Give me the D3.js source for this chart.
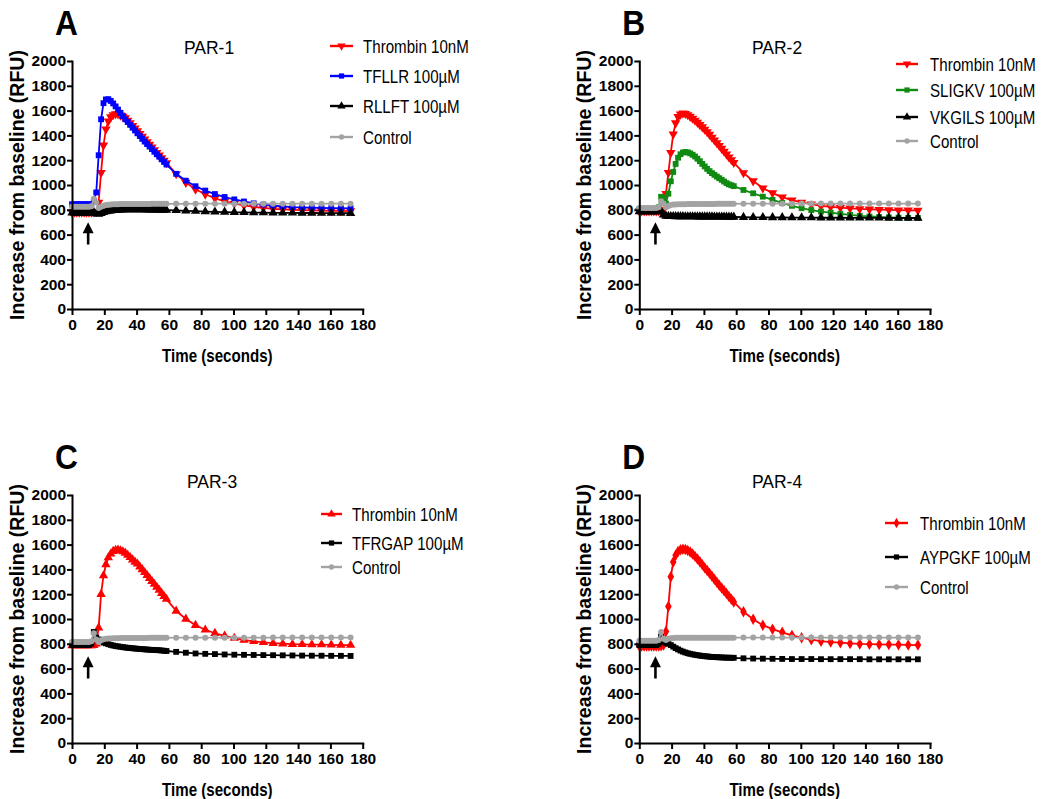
<!DOCTYPE html>
<html>
<head>
<meta charset="utf-8">
<script src="https://cdn.jsdelivr.net/npm/d3@7"></script>
<style>
  body { margin: 0; background: #fff; }
  svg { display: block; }
  .tick text { font-family: "Liberation Sans", Arial, sans-serif; font-weight: bold; font-size: 15.5px; fill: #000; }
</style>
</head>
<body>
<svg id="fig" width="1048" height="799"></svg>
<script>
// ---- Sampling times (s): dense reads for the first minute, then every 6 s ----
const TIME = [0,1.5,3,4.5,6,7.5,9,10.5,12,13.5,
  15,16.5,18,19.5,21,22.5,24,25.5,27,28.5,
  30,31.5,33,34.5,36,37.5,39,40.5,42,43.5,
  45,46.5,48,49.5,51,52.5,54,55.5,57,58.5,
  64.5,70.5,76.5,82.5,88.5,94.5,100.5,106.5,112.5,118.5,
  124.5,130.5,136.5,142.5,148.5,154.5,160.5,166.5,172.5];

const X_TICKS = [0,20,40,60,80,100,120,140,160,180];
const Y_TICKS = [0,200,400,600,800,1000,1200,1400,1600,1800,2000];
const ARROW_TIME = 10;          // agonist addition
const ARROW_RANGE = [520, 700]; // RFU span of the addition arrow

// ---- PAR-1 ----
const par1Thrombin = [780,780,780,780,780,780,780,780,780,782,
  785,860,1100,1320,1450,1515,1548,1565,1573,1572,
  1562,1552,1540,1520,1500,1479,1458,1436,1414,1392,
  1370,1348,1326,1305,1283,1261,1240,1219,1198,1178,
  1090,1020,965,925,893,868,850,835,823,815,
  808,803,800,797,795,793,792,791,790];
const par1TFLLR = [845,845,845,845,845,845,845,845,845,870,
  940,1240,1530,1660,1690,1692,1678,1658,1634,1608,
  1582,1556,1530,1508,1485,1462,1440,1417,1395,1372,
  1350,1330,1310,1290,1268,1248,1228,1207,1186,1165,
  1090,1035,990,955,927,903,884,867,852,842,
  833,827,822,819,817,815,814,813,812];
const par1RLLFT = [775,775,775,775,775,775,775,775,775,780,
  770,765,772,780,785,789,792,795,797,799,
  800,801,802,802,803,803,803,803,802,802,
  802,801,801,800,800,800,799,799,798,798,
  795,792,789,786,784,782,780,779,778,777,
  776,775,775,774,774,773,773,773,772];
const par1Control = [825,825,825,825,825,825,825,825,828,890,
  860,815,825,833,838,841,843,844,845,845,
  846,846,846,846,846,847,847,847,847,847,
  847,847,847,848,848,848,848,848,848,848,
  848,848,849,849,849,849,849,849,849,849,
  849,849,849,849,849,849,849,849,849];

// ---- PAR-2 ----
const par2Thrombin = [790,790,790,790,790,790,790,790,790,795,
  800,930,1100,1260,1410,1500,1550,1570,1578,1575,
  1565,1552,1537,1521,1504,1486,1468,1448,1428,1407,
  1384,1362,1340,1317,1294,1271,1248,1225,1202,1180,
  1098,1032,975,935,902,878,860,845,832,824,
  817,812,807,804,801,799,797,796,795];
const par2SLIGKV = [805,805,805,805,805,805,805,805,820,905,
  900,850,930,1030,1105,1170,1220,1248,1262,1266,
  1263,1255,1244,1230,1212,1192,1170,1150,1130,1112,
  1096,1082,1068,1055,1042,1028,1015,1005,998,991,
  960,933,906,880,855,832,813,798,786,777,
  767,759,751,746,742,739,737,735,734];
const par2VKGILS = [785,785,785,785,785,785,785,785,785,790,
  760,750,748,747,747,746,746,746,746,745,
  745,745,745,745,744,744,744,744,744,744,
  744,743,743,743,743,743,742,742,742,742,
  740,739,739,738,738,737,737,737,736,736,
  736,735,735,735,735,734,734,734,734];
const par2Control = [815,815,815,815,815,815,815,815,820,870,
  850,820,830,838,842,843,844,845,845,845,
  846,846,846,846,846,847,847,847,847,847,
  847,847,848,848,848,848,848,848,848,848,
  849,849,849,849,849,849,850,850,850,850,
  850,850,850,850,850,850,850,850,850];

// ---- PAR-3 ----
const par3Thrombin = [785,785,785,785,785,785,785,785,785,787,
  800,930,1200,1350,1440,1495,1525,1547,1556,1557,
  1552,1543,1532,1515,1497,1478,1460,1445,1422,1399,
  1376,1352,1328,1305,1281,1257,1233,1208,1184,1160,
  1065,1000,950,913,885,864,846,831,820,812,
  805,801,797,795,794,793,791,790,790];
const par3TFRGAP = [790,790,790,790,790,790,790,790,800,895,
  850,835,822,810,804,797,791,786,782,779,
  776,773,770,768,766,764,762,760,758,757,
  755,754,752,751,750,749,748,746,744,742,
  735,728,722,719,717,714,712,711,710,709,
  708,707,706,705,704,704,703,703,702];
const par3Control = [815,815,815,815,815,815,815,815,820,885,
  835,815,828,836,840,842,843,844,845,845,
  846,846,846,846,847,847,847,847,847,847,
  847,847,848,848,848,848,848,848,848,848,
  849,849,849,849,849,849,849,849,849,849,
  850,850,850,850,850,850,850,850,850];

// ---- PAR-4 ----
const par4Thrombin = [782,782,782,782,782,782,782,782,782,785,
  790,900,1100,1340,1460,1515,1545,1558,1563,1561,
  1552,1540,1524,1505,1484,1462,1438,1414,1392,1368,
  1344,1320,1296,1272,1250,1228,1205,1182,1160,1138,
  1058,998,950,918,893,868,849,833,821,814,
  809,803,799,797,795,794,793,791,790];
const par4AYPGKF = [790,790,790,790,790,790,790,790,800,860,
  815,805,800,790,777,765,755,745,737,730,
  724,719,715,711,708,705,702,700,698,696,
  694,693,692,691,690,689,688,688,687,687,
  683,681,680,679,678,677,677,677,676,676,
  676,676,676,675,675,675,675,675,675];
const par4Control = [825,825,825,825,825,825,825,825,830,895,
  840,830,840,845,847,848,848,848,848,848,
  848,848,848,848,848,849,849,849,849,849,
  849,849,849,849,849,849,849,849,849,849,
  850,850,850,850,850,850,850,850,850,850,
  850,850,850,850,850,850,850,850,850];

// ---- Styling ----
const RED = "#ff0000", BLUE = "#0000ff", GREEN = "#118a11", BLACK = "#000000", GREY = "#a3a3a3";
const FONT = '"Liberation Sans", Arial, sans-serif';
const PW = 290.7, PH = 248;   // plot box

const mk = {
  down:    { type: d3.symbolTriangle, size: 38, rot: 180 },
  up:      { type: d3.symbolTriangle, size: 38, rot: 0 },
  square:  { type: d3.symbolSquare,   size: 34, rot: 0 },
  diamond: { type: d3.symbolDiamond,  size: 38, rot: 0 },
  circle:  { type: d3.symbolCircle,   size: 28, rot: 0 }
};

const panels = [
  { letter: "A", title: "PAR-1", left: 72, top: 61, titleX: 209,
    legend: { x0: 330, x1: 353, tx: 363, rows: [46, 76, 106, 137] },
    series: [
      { label: "Thrombin 10nM", values: par1Thrombin, color: RED,  marker: mk.down },
      { label: "TFLLR 100\u00b5M", values: par1TFLLR, color: BLUE, marker: mk.square },
      { label: "RLLFT 100\u00b5M", values: par1RLLFT, color: BLACK, marker: mk.up },
      { label: "Control", values: par1Control, color: GREY, marker: mk.circle }
    ] },
  { letter: "B", title: "PAR-2", left: 639.3, top: 61, titleX: 777,
    legend: { x0: 896, x1: 918, tx: 930, rows: [64, 90, 117, 141] },
    series: [
      { label: "Thrombin 10nM", values: par2Thrombin, color: RED, marker: mk.down },
      { label: "SLIGKV 100\u00b5M", values: par2SLIGKV, color: GREEN, marker: mk.square },
      { label: "VKGILS 100\u00b5M", values: par2VKGILS, color: BLACK, marker: mk.up },
      { label: "Control", values: par2Control, color: GREY, marker: mk.circle }
    ] },
  { letter: "C", title: "PAR-3", left: 72, top: 495, titleX: 212,
    legend: { x0: 321, x1: 342, tx: 352, rows: [514, 543, 567] },
    series: [
      { label: "Thrombin 10nM", values: par3Thrombin, color: RED, marker: mk.up },
      { label: "TFRGAP 100\u00b5M", values: par3TFRGAP, color: BLACK, marker: mk.square },
      { label: "Control", values: par3Control, color: GREY, marker: mk.circle }
    ] },
  { letter: "D", title: "PAR-4", left: 639.3, top: 495, titleX: 777,
    legend: { x0: 885, x1: 908, tx: 920, rows: [523, 557, 587] },
    series: [
      { label: "Thrombin 10nM", values: par4Thrombin, color: RED, marker: mk.diamond },
      { label: "AYPGKF 100\u00b5M", values: par4AYPGKF, color: BLACK, marker: mk.square },
      { label: "Control", values: par4Control, color: GREY, marker: mk.circle }
    ] }
];

const svg = d3.select("#fig");

function symbolPath(m, scale) {
  return d3.symbol().type(m.type).size(m.size * (scale || 1))();
}

function drawPanel(p) {
  const g = svg.append("g");
  const x = d3.scaleLinear().domain([0, 180]).range([p.left, p.left + PW]);
  const y = d3.scaleLinear().domain([0, 2000]).range([p.top + PH, p.top]);

  // data traces
  p.series.forEach(s => {
    const pts = TIME.map((t, i) => [t, s.values[i]]);
    g.append("path")
      .datum(pts)
      .attr("fill", "none")
      .attr("stroke", s.color)
      .attr("stroke-width", 1.8)
      .attr("d", d3.line().x(d => x(d[0])).y(d => y(d[1])));
    const sym = symbolPath(s.marker);
    g.append("g").selectAll("path")
      .data(pts).join("path")
      .attr("d", sym)
      .attr("fill", s.color)
      .attr("transform", d => `translate(${x(d[0])},${y(d[1])}) rotate(${s.marker.rot})`);
  });

  // addition arrow
  const ax = x(ARROW_TIME), yTip = y(ARROW_RANGE[1]), yTail = y(ARROW_RANGE[0]);
  g.append("line")
    .attr("x1", ax).attr("x2", ax).attr("y1", yTail).attr("y2", yTip + 8)
    .attr("stroke", "#000").attr("stroke-width", 2.6);
  g.append("path")
    .attr("d", `M${ax},${yTip} L${ax - 5.5},${yTip + 11} L${ax + 5.5},${yTip + 11} Z`)
    .attr("fill", "#000");

  // axes
  const yAxis = g.append("g")
    .attr("transform", `translate(${p.left},0)`)
    .call(d3.axisLeft(y).tickValues(Y_TICKS).tickFormat(d3.format("d"))
      .tickSize(5).tickSizeOuter(0).tickPadding(1));
  const xAxis = g.append("g")
    .attr("transform", `translate(0,${p.top + PH})`)
    .call(d3.axisBottom(x).tickValues(X_TICKS).tickFormat(d3.format("d"))
      .tickSize(6).tickSizeOuter(0).tickPadding(4));
  [yAxis, xAxis].forEach(a => {
    a.select(".domain").attr("stroke", "#000").attr("stroke-width", 2).attr("stroke-linecap", "square");
    a.selectAll(".tick line").attr("stroke", "#000").attr("stroke-width", 2);
  });

  // axis titles
  g.append("text")
    .attr("transform", `translate(${p.left + PW / 2},${p.top + PH + 53}) scale(0.84,1)`)
    .attr("text-anchor", "middle")
    .style("font-family", FONT).style("font-weight", "bold").style("font-size", "18px")
    .text("Time (seconds)");
  g.append("text")
    .attr("transform", `translate(${p.left - 48},${p.top + PH / 2}) rotate(-90)`)
    .attr("text-anchor", "middle")
    .style("font-family", FONT).style("font-weight", "bold").style("font-size", "19.5px")
    .text("Increase from baseline (RFU)");

  // panel title and letter
  g.append("text")
    .attr("x", p.titleX).attr("y", p.top - 7)
    .attr("text-anchor", "middle")
    .style("font-family", FONT).style("font-size", "17.5px")
    .text(p.title);
  g.append("text")
    .attr("transform", `translate(${p.left - 17},${p.top - 26}) scale(0.88,1)`)
    .style("font-family", FONT).style("font-weight", "bold").style("font-size", "36px")
    .text(p.letter);

  // legend
  const L = p.legend;
  p.series.forEach((s, i) => {
    const ry = L.rows[i];
    g.append("line")
      .attr("x1", L.x0).attr("x2", L.x1).attr("y1", ry).attr("y2", ry)
      .attr("stroke", s.color).attr("stroke-width", 2.4);
    g.append("path")
      .attr("d", symbolPath(s.marker, 0.8))
      .attr("fill", s.color)
      .attr("transform", `translate(${(L.x0 + L.x1) / 2},${ry}) rotate(${s.marker.rot})`);
    g.append("text")
      .attr("transform", `translate(${L.tx},${ry + 6.5}) scale(0.84,1)`)
      .style("font-family", FONT).style("font-size", "18px")
      .text(s.label);
  });
}

panels.forEach(drawPanel);
</script>
</body>
</html>
